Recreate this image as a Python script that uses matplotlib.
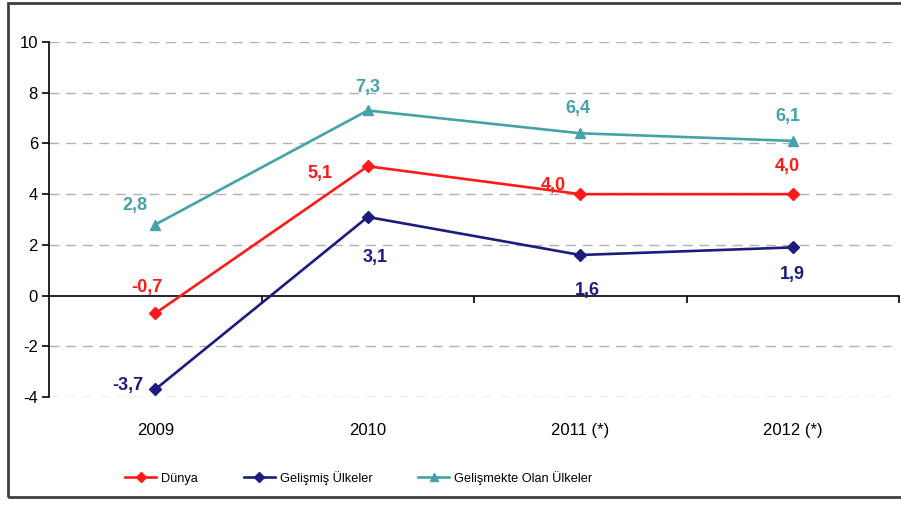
import matplotlib.pyplot as plt
from matplotlib.patches import Rectangle
from matplotlib.transforms import blended_transform_factory

plt.rcParams['font.family'] = ['Liberation Sans', 'DejaVu Sans']
plt.rcParams['axes.unicode_minus'] = False

years = ['2009', '2010', '2011 (*)', '2012 (*)']
dunya = [-0.7, 5.1, 4.0, 4.0]
gelismis = [-3.7, 3.1, 1.6, 1.9]
gelismekte = [2.8, 7.3, 6.4, 6.1]

series_names = ['Dünya', 'Gelişmiş Ülkeler', 'Gelişmekte Olan Ülkeler']
colors = ['#ff1a1a', '#1c1c80', '#45a3a8']

# label offsets in pixels (dx, dy) for each point
dunya_off = [(-8, 26), (-48, -7), (-27, 9), (-5, 28)]
gelismis_off = [(-27, 4), (7, -41), (7, -35), (0, -27)]
gelismekte_off = [(-20, 19), (0, 23), (-2, 25), (-5, 24)]

fig = plt.figure(figsize=(9.01, 5.05), dpi=100)
ax = fig.add_axes([49 / 901, 108 / 505, 850 / 901, 355 / 505])

x = list(range(len(years)))
ax.plot(x, dunya, color=colors[0], lw=1.9, marker='D', ms=6, label=series_names[0], zorder=4)
ax.plot(x, gelismis, color=colors[1], lw=1.9, marker='D', ms=6, label=series_names[1], zorder=4)
ax.plot(x, gelismekte, color=colors[2], lw=1.9, marker='^', ms=7, label=series_names[2], zorder=4)

for vals, offs, c in [(dunya, dunya_off, colors[0]),
                      (gelismis, gelismis_off, colors[1]),
                      (gelismekte, gelismekte_off, colors[2])]:
    for i, v in enumerate(vals):
        ax.annotate(f'{v:.1f}'.replace('.', ','), (i, v), xytext=offs[i],
                    textcoords='offset pixels', ha='center', va='center',
                    color=c, fontsize=13, fontweight='bold')

ax.set_xlim(-0.5, 3.5)
ax.set_ylim(-4, 10)
ax.set_yticks(range(-4, 11, 2))
ax.tick_params(axis='y', direction='out', length=5, width=1.2, labelsize=12, pad=3)

# gridlines, zero line solid
for yv in range(-4, 11, 2):
    if yv != 0:
        ax.axhline(yv, xmax=0.99, color='#b0b0b0', lw=1, dashes=(7, 5), zorder=1)

for s in ['top', 'right']:
    ax.spines[s].set_visible(False)
ax.spines['bottom'].set_position(('data', 0))
ax.spines['bottom'].set_linewidth(1.2)
ax.spines['left'].set_linewidth(1.2)
ax.set_xticks([0.5, 1.5, 2.5, 3.5])
ax.set_xticklabels([])
ax.tick_params(axis='x', direction='out', length=5, width=1.2)

trans = blended_transform_factory(ax.transData, ax.transAxes)
for i, lab in enumerate(years):
    ax.text(i, -0.095, lab, transform=trans, ha='center', va='center', fontsize=12)

fig.legend(loc='center left', bbox_to_anchor=(114 / 901, 1 - 478 / 505), ncol=3,
           frameon=False, fontsize=9.2,
           handlelength=2.4, handletextpad=0.4, columnspacing=3.6, markerscale=0.8)

fig.patches.append(Rectangle((8 / 901, 8 / 505), 900 / 901, 494 / 505, transform=fig.transFigure,
                             fill=False, edgecolor='#404040', lw=2))

fig.savefig('out.png', dpi=100)
